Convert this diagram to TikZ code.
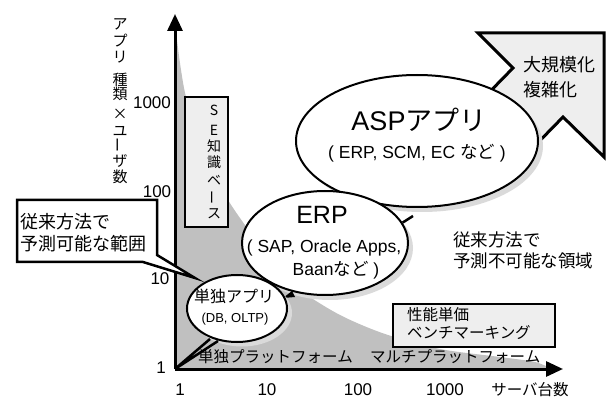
\documentclass[tikz,border=0pt]{standalone}
\usepackage{fontspec}
\setmainfont{Liberation Sans}
\newfontfamily\jp{Noto Sans CJK JP}
\usetikzlibrary{shapes.geometric,arrows.meta}
\definecolor{regiongray}{RGB}{192,192,192}
\definecolor{shadowgray}{RGB}{218,218,218}
\definecolor{panelgray}{RGB}{238,238,238}
\newcommand{\fsz}[1]{\fontsize{#1}{#1}\selectfont}
\begin{document}
\begin{tikzpicture}[x=1pt,y=-1pt,
  axis/.style={line width=3pt,-{Triangle[length=17pt,width=15pt]}},
  bubble/.style={ellipse,draw,line width=2pt,fill=white,inner sep=0pt},
  bshade/.style={ellipse,fill=shadowgray,inner sep=0pt},
  panel/.style={draw,line width=2.5pt,fill=panelgray,inner sep=0pt},
  tick/.style={inner sep=0pt,font=\fsz{17}},
  jtxt/.style={inner sep=0pt,font=\jp\fsz{#1}},
  ltxt/.style={inner sep=0pt,font=\fsz{#1}},
  tail/.style={line width=2.5pt,line join=miter}]
\useasboundingbox (0,0) rectangle (606,401);

% predictable region under the curve
\fill[regiongray] (175,369) -- plot[smooth] coordinates {(175,18) (177,40) (181,70) (186,97) (196,128) (210,165) (228,200) (250,232) (275,265) (300,290) (340,315) (385,334) (440,349) (500,357) (535,362) (552,369)} -- cycle;

% axes
\coordinate (O) at (175,369);
\coordinate (ytip) at (175,14);
\coordinate (xtip) at (563,369);
\draw[axis] (O) -- (ytip);
\draw[axis] (O) -- (xtip);

% tick labels
\node[tick] (y1000) at (152,103) {1000};
\node[tick] (y100)  at (157,192) {100};
\node[tick] (y10)   at (160,279) {10};
\node[tick] (y1)    at (161,368) {1};
\node[tick] (x1)    at (180,390) {1};
\node[tick] (x10)   at (267,390) {10};
\node[tick] (x100)  at (358,390) {100};
\node[tick] (x1000) at (445,390) {1000};
\node[jtxt=15.5] (xlab) at (530,390) {サーバ台数};

% vertical axis title
\foreach \c/\y [count=\i] in {ア/24,プ/41,リ/57.5,種/79.5,類/94,×/114,ユ/131,ザ/161,数/177}
  \node[jtxt=15] (ylab\i) at (120,\y) {\c};
\node[jtxt=15,rotate=90] (ylabbar) at (120,145) {ー};

% knowledge base panel
\node[panel,minimum width=43pt,minimum height=130pt] (sebox) at (206.5,162) {};
\foreach \c/\y [count=\i] in {S/110,E/130,知/146,識/162,ベ/180,ス/214}
  \node[jtxt=14] (se\i) at (214,\y) {\c};
\node[jtxt=14,rotate=90] (sebar) at (214,198) {ー};

% growth arrow
\draw[line width=3pt,fill=panelgray,line join=miter]
  (478,33) -- (604,33) -- (604,157) -- (563,117) -- (521,160) -- (471,111) -- (513,68) -- cycle;
\node[jtxt=18,anchor=west] (grow1) at (523,65) {大規模化};
\node[jtxt=18,anchor=west] (grow2) at (523,90) {複雑化};

% ASP bubble
\node[bshade,minimum width=242pt,minimum height=132pt] (aspsh) at (422,146) {};
\node[bubble,minimum width=242pt,minimum height=132pt] (asp) at (417,141) {};
\coordinate (asptA) at (402,223);
\coordinate (asptB) at (413,216);
\draw[tail] (asptA) -- (asptB);
\node[inner sep=0pt,font=\fsz{27}] (asp1) at (419,120) {ASP{\jp アプリ}};
\node[ltxt=17.5] (asp2) at (417,153) {( ERP, SCM, EC {\jp など} )};

% ERP bubble
\node[bshade,minimum width=166pt,minimum height=104pt] (erpsh) at (330,248) {};
\node[bubble,minimum width=166pt,minimum height=104pt] (erp) at (325,243) {};
\node[ltxt=25] (erp1) at (322,215) {ERP};
\node[ltxt=17.5] (erp2) at (324,248) {( SAP, Oracle Apps,};
\node[ltxt=17.5] (erp3) at (336,270) {Baan{\jp など} )};
\coordinate (erptA) at (283,298);
\coordinate (erptB) at (292,291);
\coordinate (erptC) at (295,297);
\fill (erptA) -- (erptB) -- (erptC) -- cycle;

% standalone application bubble
\node[bshade,minimum width=100pt,minimum height=67pt] (solosh) at (242,313) {};
\coordinate (solotA) at (210,339);
\coordinate (solotB) at (218,341);
\draw[tail] (solotA) -- (O) -- (solotB);
\node[bubble,minimum width=100pt,minimum height=67pt] (solo) at (237,308.5) {};
\node[jtxt=16] (solo1) at (234,296) {単独アプリ};
\node[ltxt=13] (solo2) at (235,319) {(DB, OLTP)};

% predictable-range callout
\draw[line width=2.5pt,fill=white,line join=miter]
  (17,200) -- (157,200) -- (157,255) -- (195,278) -- (143,262) -- (17,262) -- cycle;
\node[jtxt=18,anchor=west] (pred1) at (20,222) {従来方法で};
\node[jtxt=18,anchor=west] (pred2) at (20,244) {予測可能な範囲};

% unpredictable area text
\node[jtxt=17.5,anchor=west] (unpred1) at (453,240) {従来方法で};
\node[jtxt=17.5,anchor=west] (unpred2) at (453,261) {予測不可能な領域};

% benchmark panel
\node[panel,minimum width=162pt,minimum height=43pt] (bench) at (474,325.5) {};
\node[jtxt=15.5,anchor=west] (bench1) at (407,315) {性能単価};
\node[jtxt=15.5,anchor=west] (bench2) at (407,333) {ベンチマーキング};

% platform labels along the horizontal axis
\node[jtxt=15.5,anchor=west] (plat1) at (198,357) {単独プラットフォーム};
\node[jtxt=15.5,anchor=west] (plat2) at (370,357) {マルチプラットフォーム};
\end{tikzpicture}
\end{document}
